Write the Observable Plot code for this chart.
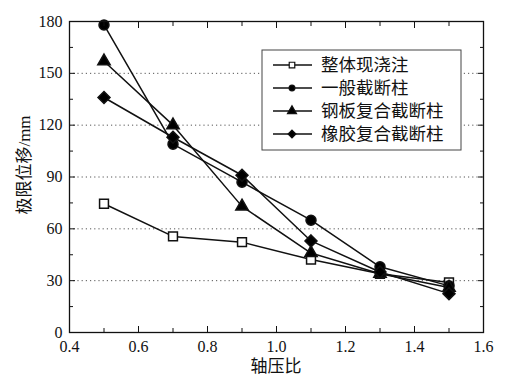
<!DOCTYPE html>
<html>
<head>
<meta charset="utf-8">
<script src="https://cdn.jsdelivr.net/npm/d3@7"></script>
<script src="https://cdn.jsdelivr.net/npm/@observablehq/plot@0.6"></script>
<style>
  html, body { margin: 0; padding: 0; background: #fff; }
  #chart { width: 512px; height: 384px; }
</style>
</head>
<body>
<div id="chart"></div>
<script>
// ---- data ----
const axialRatio = [0.5, 0.7, 0.9, 1.1, 1.3, 1.5];
const seriesNames = ["整体现浇注", "一般截断柱", "钢板复合截断柱", "橡胶复合截断柱"];
const castInPlace = [74.5, 55.6, 52.3, 42.2, 34, 29];
const ordinaryTruncated = [178, 109, 87, 65, 38, 27];
const steelTruncated = [157, 120, 73, 46, 34, 26];
const rubberTruncated = [136, 113, 91, 53, 35, 22.5];
const xTicks = [0.4, 0.6, 0.8, 1.0, 1.2, 1.4, 1.6];
const yTicks = [0, 30, 60, 90, 120, 150, 180];
const xLabel = "轴压比";
const yLabel = "极限位移/mm";

const seriesValues = [castInPlace, ordinaryTruncated, steelTruncated, rubberTruncated];
const symbols = ["square", "circle", "triangle", "diamond2"];
const fills = ["white", "black", "black", "black"];
const radii = [5, 5, 4.6, 5.4];

const fontFamily = "'Liberation Serif', 'Times New Roman', 'Noto Sans CJK SC', serif";

const marks = [];
marks.push(Plot.gridY([30, 60, 90, 120, 150], {stroke: "#555", strokeOpacity: 1, strokeDasharray: "1.2,3", strokeWidth: 1}));
seriesValues.forEach((vals, i) => {
  const rows = axialRatio.map((x, j) => ({x, y: vals[j]}));
  marks.push(Plot.line(rows, {x: "x", y: "y", stroke: "#111", strokeWidth: 1.5}));
});
seriesValues.forEach((vals, i) => {
  const rows = axialRatio.map((x, j) => ({x, y: vals[j]}));
  marks.push(Plot.dot(rows, {x: "x", y: "y", symbol: () => symbols[i], r: radii[i], fill: fills[i], stroke: "#111", strokeWidth: 1.5}));
});
// axes: ticks inward on all four sides
marks.push(Plot.axisX(xTicks, {anchor: "bottom", tickSize: -6, tickPadding: 14, tickFormat: d3.format(".1f"), fontSize: 16, label: null}));
marks.push(Plot.axisX(d3.range(0.5, 1.6, 0.2), {anchor: "bottom", tickSize: -4, text: null, label: null}));
marks.push(Plot.axisX(xTicks, {anchor: "top", tickSize: -6, text: null, label: null}));
marks.push(Plot.axisX(d3.range(0.5, 1.6, 0.2), {anchor: "top", tickSize: -4, text: null, label: null}));
marks.push(Plot.axisY(yTicks, {anchor: "left", tickSize: -6, tickPadding: 13, fontSize: 16, label: null}));
marks.push(Plot.axisY(d3.range(15, 180, 30), {anchor: "left", tickSize: -4, text: null, label: null}));
marks.push(Plot.axisY(yTicks, {anchor: "right", tickSize: -6, text: null, label: null}));
marks.push(Plot.axisY(d3.range(15, 180, 30), {anchor: "right", tickSize: -4, text: null, label: null}));
marks.push(Plot.frame({stroke: "#111", strokeWidth: 1.3}));

const plot = Plot.plot({
  width: 512,
  height: 384,
  marginLeft: 69,
  marginRight: 29,
  marginTop: 21,
  marginBottom: 52,
  style: {fontFamily, fontSize: "16px", color: "#111", background: "white"},
  x: {domain: [0.4, 1.6]},
  y: {domain: [0, 180]},
  marks
});

const svg = d3.select(plot);
// axis titles
svg.append("text")
  .attr("x", 276).attr("y", 372)
  .attr("text-anchor", "middle")
  .attr("font-family", fontFamily).attr("font-size", 17).attr("fill", "#111")
  .text(xLabel);
svg.append("text")
  .attr("transform", "translate(30,165) rotate(-90)")
  .attr("text-anchor", "middle")
  .attr("font-family", fontFamily).attr("font-size", 17).attr("fill", "#111")
  .text(yLabel);

// legend
const lg = svg.append("g").attr("font-family", fontFamily).attr("text-anchor", "start");
lg.append("rect").attr("x", 262).attr("y", 50).attr("width", 199).attr("height", 100)
  .attr("fill", "white").attr("stroke", "#444").attr("stroke-width", 1);
seriesNames.forEach((name, i) => {
  const cy = 65 + i * 23;
  lg.append("line").attr("x1", 273).attr("x2", 312).attr("y1", cy).attr("y2", cy)
    .attr("stroke", "#111").attr("stroke-width", 1.5);
  const symType = [d3.symbolSquare, d3.symbolCircle, d3.symbolTriangle, d3.symbolDiamond2][i];
  const sz = [14, 12, 16, 18][i];
  lg.append("path").attr("d", d3.symbol(symType, sz * 2.2)())
    .attr("transform", `translate(292,${cy})`)
    .attr("fill", fills[i]).attr("stroke", "#111").attr("stroke-width", 1.2);
  lg.append("text").attr("x", 321).attr("y", cy).attr("dy", "0.36em")
    .attr("text-anchor", "start")
    .attr("font-size", 17.5).attr("fill", "#111").text(name);
});

document.getElementById("chart").appendChild(plot);
</script>
</body>
</html>
